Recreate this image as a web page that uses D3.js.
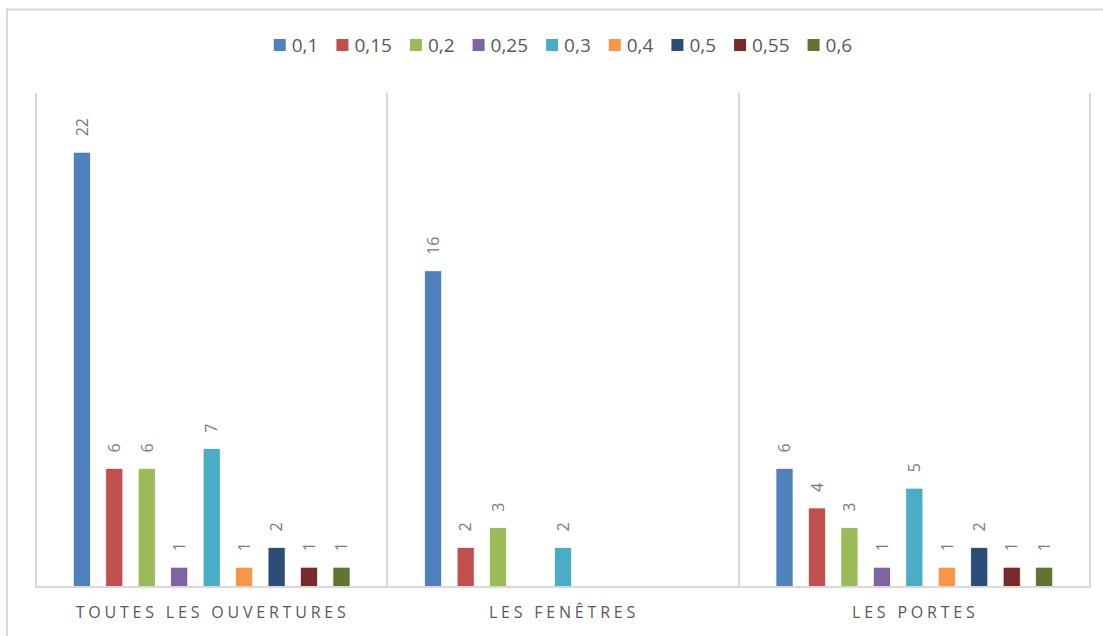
<!DOCTYPE html>
<html lang="fr">
<head>
  <meta charset="utf-8">
  <title>Ouvertures</title>
  <script src="https://cdn.jsdelivr.net/npm/d3@7"></script>
  <style>
    body {
      margin: 0;
      background: #fff;
    }

    text {
      font-family: "Open Sans", "Noto Sans", sans-serif;
      fill: #595959;
    }

    .frame {
      fill: none;
      stroke: #d9d9d9;
      stroke-width: 2px;
    }

    .sep,
    .base {
      stroke: #d9d9d9;
      stroke-width: 2px;
      shape-rendering: crispEdges;
    }

    .bar {
      stroke: #fff;
      stroke-width: 0.7px;
    }
  </style>
</head>

<body>
</body>
<script>
  // données
  var categories = ["TOUTES LES OUVERTURES", "LES FENÊTRES", "LES PORTES"];
  var seriesNames = ["0,1", "0,15", "0,2", "0,25", "0,3", "0,4", "0,5", "0,55", "0,6"];
  var seriesColors = ["#4f81bd", "#c0504d", "#9bbb59", "#8064a2", "#4bacc6", "#f79646", "#2c4d75", "#772c2a", "#5f7530"];
  var toutesValues = [22, 6, 6, 1, 7, 1, 2, 1, 1];
  var fenetresValues = [16, 2, 3, null, 2, null, null, null, null];
  var portesValues = [6, 4, 3, 1, 5, 1, 2, 1, 1];

  var valuesByCat = [toutesValues, fenetresValues, portesValues];

  var width = 1103,
    height = 636;

  var plot = {
    left: 36,
    right: 1090,
    top: 93,
    bottom: 587
  };

  var svg = d3.select("body").append("svg")
    .attr("width", width)
    .attr("height", height);

  svg.append("rect")
    .attr("class", "frame")
    .attr("x", 7).attr("y", 9.5)
    .attr("width", 1110).attr("height", 640);

  var x0 = d3.scaleBand()
    .domain(categories)
    .range([plot.left, plot.right])
    .padding(0);

  var x1 = d3.scaleBand()
    .domain(seriesNames)
    .range([0, x0.bandwidth()])
    .paddingInner(0.475)
    .paddingOuter(1.15);

  var y = d3.scaleLinear()
    .domain([0, 25])
    .range([plot.bottom, plot.top]);

  var color = d3.scaleOrdinal()
    .domain(seriesNames)
    .range(seriesColors);

  // séparateurs verticaux
  var sepX = categories.map(function(c) {
    return x0(c);
  }).concat([plot.right]);

  svg.selectAll(".sep")
    .data(sepX)
    .enter().append("line")
    .attr("class", "sep")
    .attr("x1", function(d) { return d; })
    .attr("x2", function(d) { return d; })
    .attr("y1", plot.top)
    .attr("y2", plot.bottom);

  var groups = svg.selectAll(".group")
    .data(categories)
    .enter().append("g")
    .attr("class", "group")
    .attr("transform", function(c) {
      return "translate(" + x0(c) + ",0)";
    });

  var cells = groups.selectAll(".cell")
    .data(function(c, i) {
      return seriesNames.map(function(s, j) {
        return { series: s, value: valuesByCat[i][j] };
      }).filter(function(d) {
        return d.value != null;
      });
    })
    .enter().append("g")
    .attr("class", "cell");

  cells.append("rect")
    .attr("class", "bar")
    .attr("x", function(d) { return x1(d.series); })
    .attr("width", x1.bandwidth())
    .attr("y", function(d) { return y(d.value); })
    .attr("height", function(d) { return y(0) - y(d.value); })
    .attr("fill", function(d) { return color(d.series); });

  cells.append("text")
    .attr("transform", function(d) {
      var cx = x1(d.series) + x1.bandwidth() / 2;
      return "translate(" + cx + "," + (y(d.value) - 16) + ") rotate(-90)";
    })
    .attr("dy", "0.36em")
    .style("font-size", "16px")
    .style("fill", "#7a7a7a")
    .text(function(d) { return d.value; });

  svg.append("line")
    .attr("class", "base")
    .attr("x1", plot.left - 1)
    .attr("x2", plot.right + 1)
    .attr("y1", plot.bottom)
    .attr("y2", plot.bottom);

  // étiquettes de catégories
  svg.selectAll(".cat")
    .data(categories)
    .enter().append("text")
    .attr("class", "cat")
    .attr("x", function(c) { return x0(c) + x0.bandwidth() / 2 + 1; })
    .attr("y", 618)
    .attr("text-anchor", "middle")
    .style("font-size", "16px")
    .style("letter-spacing", "3.8px")
    .text(function(c) { return c; });

  // légende
  var legend = svg.append("g").attr("class", "legend");
  var lx = 0;
  seriesNames.forEach(function(s) {
    var item = legend.append("g").attr("transform", "translate(" + lx + ",0)");
    item.append("rect")
      .attr("x", 0).attr("y", -6)
      .attr("width", 12).attr("height", 12)
      .attr("fill", color(s));
    var t = item.append("text")
      .attr("x", 18)
      .attr("dy", "0.36em")
      .style("font-size", "19px")
      .text(s);
    lx += 18 + t.node().getComputedTextLength() + 18;
  });
  var legendW = lx - 18;
  legend.attr("transform", "translate(" + ((plot.left + plot.right) / 2 - legendW / 2) + ",45)");
</script>

</html>
